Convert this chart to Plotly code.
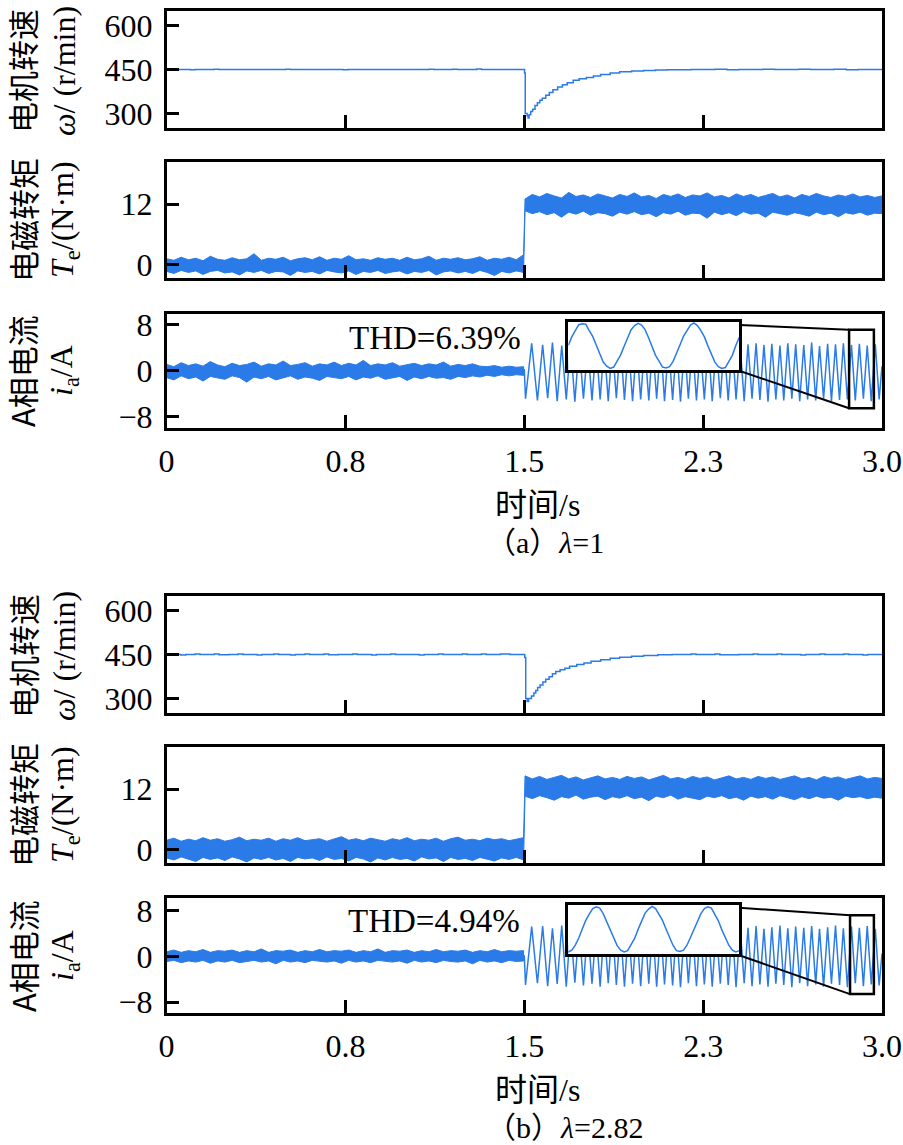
import numpy as np
import plotly.graph_objects as go

W, H = 903, 1145
BLUE = "#2a7be8"
SERIF = "Liberation Serif, Times New Roman, Noto Sans CJK SC, serif"
CJK = "Noto Sans CJK SC, Liberation Serif, sans-serif"

# ---------------- data ----------------
x_tickvals = [0, 0.75, 1.5, 2.25, 3.0]
x_ticktext = ["0", "0.8", "1.5", "2.3", "3.0"]

# motor speed (r/min)
speed_a_t = [0.00, 0.03, 0.10, 0.12, 0.20, 0.22, 0.35, 0.50, 0.52, 0.70, 0.74, 0.76, 0.95, 1.10, 1.12,
             1.20, 1.22, 1.30, 1.32, 1.40, 1.498, 1.501, 1.504, 1.512, 1.516, 1.520, 1.527, 1.535, 1.545,
             1.555, 1.565, 1.575, 1.590, 1.605, 1.620, 1.640, 1.660, 1.680, 1.705, 1.730, 1.760, 1.790,
             1.820, 1.860, 1.900, 1.950, 2.000, 2.050, 2.100, 2.200, 2.300, 2.350, 2.400, 2.500, 2.550,
             2.650, 2.700, 2.800, 2.850, 2.900, 3.000]
speed_a_v = [451, 450, 449, 450, 451, 450, 450, 451, 450, 450, 449, 450, 450, 451, 450,
             451, 450, 452, 450, 450, 450, 438, 300, 292, 284, 295, 306, 314, 327,
             336, 345, 352, 362, 371, 381, 390, 398, 405, 413, 418, 423, 428,
             433, 438, 442, 445, 447, 448, 449, 450, 451, 449, 450, 451, 450,
             451, 450, 451, 449, 450, 450]

speed_b_t = [0.00, 0.01, 0.03, 0.06, 0.08, 0.12, 0.14, 0.20, 0.22, 0.26, 0.30, 0.32, 0.38, 0.40, 0.45,
             0.47, 0.52, 0.54, 0.58, 0.60, 0.66, 0.68, 0.72, 0.78, 0.80, 0.86, 0.88, 0.94, 0.96, 1.02,
             1.06, 1.08, 1.14, 1.16, 1.24, 1.26, 1.32, 1.34, 1.40, 1.44, 1.498, 1.502, 1.506, 1.512,
             1.518, 1.524, 1.530, 1.540, 1.548, 1.556, 1.566, 1.578, 1.590, 1.604, 1.618, 1.632, 1.650,
             1.670, 1.690, 1.720, 1.750, 1.780, 1.820, 1.860, 1.900, 1.950, 2.000, 2.060, 2.120, 2.200,
             2.220, 2.300, 2.320, 2.400, 2.460, 2.480, 2.560, 2.580, 2.660, 2.680, 2.740, 2.760, 2.840,
             2.860, 2.920, 2.940, 3.000]
speed_b_v = [452, 449, 450, 448, 450, 452, 450, 452, 449, 450, 452, 450, 448, 450, 452,
             450, 448, 450, 452, 450, 452, 449, 450, 452, 450, 448, 450, 452, 450, 450,
             448, 450, 452, 450, 452, 450, 452, 450, 452, 450, 450, 440, 300, 289,
             300, 300, 308, 318, 327, 337, 346, 356, 365, 374, 384, 392, 398,
             403, 410, 416, 421, 427, 432, 437, 441, 444, 447, 449, 450, 452,
             450, 452, 449, 450, 452, 450, 452, 450, 448, 450, 452, 450, 452,
             450, 448, 450, 450]

# electromagnetic torque (N·m): upper / lower envelope of the noisy band
tq_a_pre_up = [1.2, 0.9, 1.5, 1.0, 1.3, 0.8, 1.7, 1.1, 0.9, 1.4, 1.0, 1.2, 2.2, 0.9, 1.3, 1.1, 1.5, 0.8, 1.2, 1.4,
               1.0, 1.6, 0.9, 1.3, 1.1, 1.8, 1.0, 1.2, 0.9, 1.4, 1.1, 1.3, 0.9, 1.5, 1.0, 1.2, 1.7, 0.9, 1.3, 1.1,
               1.4, 1.0, 1.2, 1.6, 0.9, 1.3, 1.1, 1.5, 1.0, 2.0]
tq_a_pre_lo = [-1.3, -1.7, -1.1, -1.5, -1.2, -1.9, -1.3, -1.1, -1.6, -1.4, -2.0, -1.2, -1.5, -1.1, -1.7, -1.3,
               -1.4, -2.1, -1.2, -1.5, -1.3, -1.8, -1.1, -1.4, -1.6, -1.2, -1.9, -1.3, -1.5, -1.1, -1.7, -1.4,
               -1.2, -1.8, -1.3, -1.5, -1.1, -2.0, -1.4, -1.2, -1.6, -1.3, -1.7, -1.1, -1.5, -2.1, -1.3, -1.6,
               -1.2, -1.5]
tq_a_post_up = [13.0, 13.9, 13.4, 14.1, 13.6, 13.2, 14.3, 13.5, 13.8, 13.3, 14.0, 13.6, 13.2, 13.9, 13.5, 14.2,
                13.4, 13.7, 13.1, 13.9, 13.5, 14.0, 13.3, 13.8, 13.6, 14.2, 13.4, 13.7, 13.2, 14.0, 13.5, 13.9,
                13.3, 13.7, 14.1, 13.4, 13.8, 13.2, 13.9, 13.5, 14.1, 13.6, 13.3, 13.8, 13.5, 14.0, 13.4, 13.7,
                13.3, 13.6]
tq_a_post_lo = [10.7, 10.1, 10.5, 9.9, 10.3, 9.4, 10.4, 10.0, 10.6, 9.8, 10.3, 10.1, 9.6, 10.4, 10.0, 10.5,
                9.9, 10.2, 9.5, 10.3, 10.0, 10.6, 9.8, 10.2, 10.1, 9.2, 10.4, 9.9, 10.3, 9.7, 10.5, 10.0,
                10.2, 9.4, 10.4, 10.1, 9.8, 10.3, 10.0, 9.6, 10.4, 9.9, 10.2, 9.5, 10.3, 10.0, 10.4, 9.8,
                10.2, 10.1]

tq_b_pre_up = [1.9, 2.3, 1.7, 2.1, 1.8, 2.4, 1.9, 2.2, 1.7, 2.0, 2.5, 1.8, 2.1, 1.9, 2.3, 1.7, 2.2, 1.9, 2.4, 1.8,
               2.0, 2.2, 1.7, 2.1, 2.6, 1.9, 2.2, 1.8, 2.3, 2.0, 1.7, 2.2, 1.9, 2.4, 1.8, 2.1, 1.9, 2.3, 1.7, 2.2,
               2.5, 1.9, 2.1, 1.8, 2.3, 2.0, 2.2, 1.8, 2.1, 2.4]
tq_b_pre_lo = [-1.6, -2.0, -1.4, -1.8, -2.3, -1.5, -1.9, -1.6, -2.1, -1.4, -1.8, -2.4, -1.6, -1.9, -1.5, -2.0,
               -1.7, -2.3, -1.5, -1.8, -1.6, -2.1, -1.4, -1.9, -1.7, -2.2, -1.5, -1.8, -2.4, -1.6, -2.0, -1.5,
               -1.9, -1.7, -2.2, -1.4, -1.8, -1.6, -2.3, -1.5, -1.9, -1.7, -2.1, -1.5, -1.8, -2.2, -1.6, -1.9,
               -1.5, -2.0]
tq_b_post_up = [14.6, 14.0, 14.5, 13.9, 14.3, 14.7, 14.0, 14.4, 13.8, 14.2, 14.6, 14.0, 14.3, 13.9, 14.5, 14.1,
                14.4, 13.8, 14.2, 14.7, 14.0, 14.3, 13.9, 14.5, 14.1, 14.4, 13.8, 14.2, 14.6, 14.0, 14.3, 13.9,
                14.5, 14.1, 14.4, 13.9, 14.2, 14.6, 14.0, 14.3, 13.8, 14.5, 14.1, 14.4, 13.9, 14.2, 14.6, 14.0,
                14.3, 14.1]
tq_b_post_lo = [10.6, 10.1, 10.7, 10.3, 9.8, 10.5, 10.2, 10.8, 10.0, 10.4, 10.6, 9.9, 10.5, 10.2, 10.7, 10.1,
                10.4, 9.7, 10.6, 10.3, 10.8, 10.0, 10.5, 10.2, 9.9, 10.6, 10.3, 10.7, 10.1, 10.4, 9.8, 10.6,
                10.2, 10.5, 10.0, 10.7, 10.3, 9.9, 10.5, 10.1, 10.6, 10.2, 10.4, 9.8, 10.6, 10.3, 10.5, 10.1,
                10.4, 10.2]

# phase-A current (A): noisy band before 1.5 s
cur_a_pre_up = [1.1, 0.7, 1.4, 0.9, 1.2, 0.8, 1.6, 1.0, 0.7, 1.3, 0.9, 1.1, 1.5, 0.8, 1.2, 1.0, 1.7, 0.9, 1.1, 1.4,
                0.8, 1.2, 1.0, 1.5, 0.9, 1.3, 1.0, 1.8, 0.9, 1.2, 1.0, 1.4, 0.8, 1.1, 1.3, 0.9, 1.2, 1.0, 1.5, 0.8,
                1.1, 0.9, 1.2, 0.8, 0.7, 0.9, 0.6, 0.8, 0.6, 0.7]
cur_a_pre_lo = [-1.2, -1.6, -0.9, -1.4, -1.1, -1.8, -1.0, -1.3, -1.5, -0.9, -1.2, -2.0, -1.1, -1.4, -1.0, -1.6,
                -1.2, -0.9, -1.5, -1.1, -1.3, -1.7, -1.0, -1.2, -1.4, -1.0, -1.6, -1.1, -1.3, -0.9, -1.5, -1.2,
                -1.0, -1.7, -1.1, -1.4, -1.0, -1.3, -1.2, -1.5, -1.0, -1.2, -0.9, -1.1, -0.8, -1.0, -0.7, -0.9,
                -0.7, -0.8]
cur_b_pre_up = [0.8, 1.1, 0.7, 1.0, 0.8, 1.2, 0.7, 1.0, 0.9, 1.1, 0.7, 1.0, 0.8, 1.3, 0.7, 1.0, 0.9, 1.1, 0.7, 1.0,
                0.8, 1.2, 0.8, 1.0, 0.9, 1.1, 0.7, 1.0, 0.8, 1.3, 0.7, 1.0, 0.9, 1.1, 0.7, 1.0, 0.8, 1.2, 0.8, 1.0,
                0.9, 1.1, 0.7, 1.0, 0.8, 1.2, 0.8, 1.0, 0.9, 1.0]
cur_b_pre_lo = [-0.9, -0.7, -1.1, -0.8, -1.0, -0.7, -1.2, -0.8, -1.0, -0.7, -1.1, -0.9, -0.7, -1.0, -0.8, -1.3,
                -0.7, -1.0, -0.8, -1.1, -0.7, -0.9, -1.0, -0.8, -1.2, -0.7, -1.0, -0.8, -1.1, -0.7, -0.9, -1.0,
                -0.8, -1.2, -0.7, -1.0, -0.8, -1.1, -0.7, -0.9, -1.0, -0.8, -1.3, -0.7, -1.0, -0.8, -1.1, -0.7,
                -0.9, -0.8]

# phase-A current after load step: times of successive extrema and their values
cur_ext_t = [1.500, 1.505, 1.531, 1.555, 1.577, 1.598, 1.618, 1.638, 1.657, 1.676, 1.694, 1.712, 1.730, 1.748,
             1.766, 1.784, 1.801, 1.818, 1.835, 1.852, 1.869, 1.886, 1.903, 1.920, 1.937, 1.954, 1.971, 1.988,
             2.005, 2.022, 2.038, 2.055, 2.072, 2.088, 2.105, 2.122, 2.138, 2.155, 2.172, 2.188, 2.205, 2.222,
             2.238, 2.255, 2.272, 2.288, 2.305, 2.322, 2.338, 2.355, 2.372, 2.388, 2.405, 2.422, 2.438, 2.455,
             2.472, 2.488, 2.505, 2.522, 2.538, 2.555, 2.572, 2.588, 2.605, 2.622, 2.638, 2.655, 2.672, 2.688,
             2.705, 2.722, 2.738, 2.755, 2.772, 2.788, 2.805, 2.822, 2.838, 2.855, 2.872, 2.888, 2.905, 2.922,
             2.938, 2.955, 2.972, 2.988, 3.000]
cur_a_ext = [0.3,
             -4.9, 4.8, -5.2, 4.5, -4.8, 4.9, -5.3, 4.4, -5.0, 4.7, -5.4, 4.6, -4.9, 4.3, -5.2, 4.8, -5.0, 4.5,
             -5.3, 4.6, -4.8, 4.9, -5.1, 4.4, -5.3, 4.7, -5.0, 4.5,
             -5.2, 4.6, -4.9, 4.8, -5.3, 4.4, -5.1, 4.7, -5.4, 4.5,
             -4.9, 4.8, -5.2, 4.3, -5.0, 4.6, -5.3, 4.7, -4.8, 4.5,
             -5.2, 4.9, -5.0, 4.4, -5.3, 4.6, -4.9, 4.8, -5.1, 4.5,
             -5.4, 4.7, -5.0, 4.4, -5.2, 4.8, -4.9, 4.6, -5.3, 4.5,
             -5.0, 4.9, -5.2, 4.3, -4.9, 4.7, -5.3, 4.6, -5.1, 4.8,
             -5.0, 4.5, -5.2, 4.7, -4.9, 4.4, -5.3, 4.6, -5.0,
             0.8]
cur_b_ext = [0.2,
             -5.0, 5.2, -4.7, 5.3, -5.2, 4.9, -4.8, 5.4, -5.3, 5.0, -4.6, 5.2, -5.1, 5.3, -4.8, 4.9, -5.3, 5.1,
             -4.7, 5.4, -5.0, 4.9, -5.3, 5.2, -4.8, 5.0, -5.2, 5.3,
             -4.8, 5.1, -5.3, 4.8, -4.9, 5.4, -5.1, 4.9, -5.4, 5.2,
             -4.7, 5.0, -5.2, 5.3, -4.9, 4.8, -5.3, 5.1, -4.8, 5.4,
             -5.0, 4.9, -5.4, 5.2, -4.7, 5.0, -5.2, 5.3, -4.9, 4.8,
             -5.3, 5.1, -4.8, 5.4, -5.0, 4.9, -5.4, 5.2, -4.7, 5.0,
             -5.2, 5.3, -4.9, 4.8, -5.3, 5.1, -4.8, 5.4, -5.0, 4.9,
             -5.4, 5.2, -4.7, 5.0, -5.2, 5.3, -4.9, 4.8, -5.1,
             0.5]

# zoomed insets (about 2.86 s to 2.97 s)
inset_a_range = [2.862, 2.966]
inset_a_v = [0.1, 2.0, 3.4, 4.7, 4.9, 4.8, 3.4, 2.1, 0.2, -1.8, -3.6, -4.5, -5.0, -4.7, -3.3, -2.0,
             -0.1, 1.8, 3.6, 4.5, 5.0, 4.6, 3.6, 1.8, -0.1, -2.1, -3.4, -4.7, -4.9, -4.6, -3.5, -1.8,
             0.2, 2.1, 3.3, 4.6, 5.1, 4.5, 3.4, 2.0, 0.0, -1.9, -3.6, -4.6, -5.0, -4.8, -3.4, -2.1,
             0.1, 1.9]
inset_b_range = [2.866, 2.966]
inset_b_v = [-5.0, -4.6, -3.5, -1.9, 0.1, 2.0, 3.4, 4.6, 5.0, 4.7, 3.5, 1.8, -0.1, -2.0, -3.6, -4.6,
             -5.0, -4.7, -3.4, -2.0, 0.0, 1.9, 3.6, 4.5, 5.1, 4.6, 3.4, 2.0, 0.1, -1.9, -3.5, -4.7,
             -4.9, -4.6, -3.5, -1.8, 0.1, 2.0, 3.5, 4.6, 5.0, 4.7, 3.4, 1.9, -0.1, -2.0, -3.5, -4.6,
             -5.0, -4.7]

assert len(speed_a_t) == len(speed_a_v) and len(speed_b_t) == len(speed_b_v)
assert len(cur_ext_t) == len(cur_a_ext) == len(cur_b_ext)


# ---------------- figure ----------------
def fx(p):
    return p / W


def fy(p):
    return 1 - p / H


fig = go.Figure()

X0, X1 = 166.6, 882.0
panels = {
    1: (11, 128, [250, 650], [300, 450, 600], ["300", "450", "600"]),
    2: (162, 278, [-2.6, 20.3], [0, 12], ["0", "12"]),
    3: (314, 428, [-10.0, 9.9], [-8, 0, 8], ["\u22128", "0", "8"]),
    4: (596, 713, [250, 650], [300, 450, 600], ["300", "450", "600"]),
    5: (747, 863, [-2.6, 20.3], [0, 12], ["0", "12"]),
    6: (898, 1013, [-9.9, 10.2], [-8, 0, 8], ["\u22128", "0", "8"]),
}

axis_common = dict(showline=True, linecolor="black", linewidth=2.5, mirror=True,
                   ticks="inside", ticklen=13, tickwidth=2.5, tickcolor="black",
                   showgrid=False, zeroline=False, automargin=False, ticklabeloverflow="allow",
                   tickfont=dict(family=SERIF, size=32, color="black"))

layout_axes = {}
for i, (top, bot, yr, yt, ytt) in panels.items():
    sfx = "" if i == 1 else str(i)
    layout_axes["xaxis" + sfx] = dict(axis_common, domain=[fx(X0), fx(X1)], range=[0, 3],
                                      tickvals=x_tickvals, ticktext=x_ticktext,
                                      showticklabels=(i in (3, 6)), anchor="y" + sfx,
                                      ticklabelstandoff=3)
    layout_axes["yaxis" + sfx] = dict(axis_common, domain=[fy(bot), fy(top)], range=yr,
                                      tickvals=yt, ticktext=ytt, anchor="x" + sfx,
                                      ticklabelstandoff=5)

# inset axes
inset_box = {7: (568.3, 739.3, 322, 370, inset_a_range, [-5.35, 5.3]),
             8: (568.3, 739.3, 905, 954, inset_b_range, [-5.45, 5.4])}
for i, (l, r, t, b, xr, yr) in inset_box.items():
    layout_axes["xaxis%d" % i] = dict(domain=[fx(l), fx(r)], range=xr, showline=True, linecolor="black",
                                      linewidth=2.5, mirror=True, ticks="", showticklabels=False,
                                      showgrid=False, zeroline=False, anchor="y%d" % i)
    layout_axes["yaxis%d" % i] = dict(domain=[fy(b), fy(t)], range=yr, showline=True, linecolor="black",
                                      linewidth=2.5, mirror=True, ticks="", showticklabels=False,
                                      showgrid=False, zeroline=False, anchor="x%d" % i)

# speed traces
fig.add_trace(go.Scatter(x=speed_a_t, y=speed_a_v, mode="lines", line=dict(color=BLUE, width=1.5, shape="hv"),
                         xaxis="x", yaxis="y"))
fig.add_trace(go.Scatter(x=speed_b_t, y=speed_b_v, mode="lines", line=dict(color=BLUE, width=1.5, shape="hv"),
                         xaxis="x4", yaxis="y4"))


def band_polygon(up_pre, lo_pre, up_post, lo_post):
    t_pre = list(np.linspace(0, 1.497, len(up_pre)))
    t_post = list(np.linspace(1.503, 3.0, len(up_post)))
    xs = t_pre + t_post + t_post[::-1] + t_pre[::-1]
    ys = list(up_pre) + list(up_post) + list(lo_post)[::-1] + list(lo_pre)[::-1]
    return xs, ys


for (up1, lo1, up2, lo2), ax in [((tq_a_pre_up, tq_a_pre_lo, tq_a_post_up, tq_a_post_lo), "2"),
                                 ((tq_b_pre_up, tq_b_pre_lo, tq_b_post_up, tq_b_post_lo), "5")]:
    xs, ys = band_polygon(up1, lo1, up2, lo2)
    fig.add_trace(go.Scatter(x=xs, y=ys, mode="lines", fill="toself", fillcolor=BLUE,
                             line=dict(color=BLUE, width=1), xaxis="x" + ax, yaxis="y" + ax))

for up, lo, ext, ax in [(cur_a_pre_up, cur_a_pre_lo, cur_a_ext, "3"),
                        (cur_b_pre_up, cur_b_pre_lo, cur_b_ext, "6")]:
    t_pre = list(np.linspace(0, 1.497, len(up)))
    fig.add_trace(go.Scatter(x=t_pre + t_pre[::-1], y=list(up) + list(lo)[::-1], mode="lines", fill="toself",
                             fillcolor=BLUE, line=dict(color=BLUE, width=1), xaxis="x" + ax, yaxis="y" + ax))
    fig.add_trace(go.Scatter(x=[1.497] + cur_ext_t, y=[lo[-1]] + ext, mode="lines",
                             line=dict(color=BLUE, width=1.5), xaxis="x" + ax, yaxis="y" + ax))

# inset traces
for vals, rng, ax in [(inset_a_v, inset_a_range, "7"), (inset_b_v, inset_b_range, "8")]:
    ts = np.linspace(rng[0], rng[1], len(vals))
    fig.add_trace(go.Scatter(x=ts, y=vals, mode="lines", line=dict(color=BLUE, width=1.5),
                             xaxis="x" + ax, yaxis="y" + ax))

# zoom box + connector lines
shapes = []
for ax, rng, top_y, box_y, inset_top, inset_bot in [("3", inset_a_range, 7.13, -6.56, 8.0, 0.0),
                                                   ("6", inset_b_range, 7.2, -6.6, 8.5, 0.2)]:
    ref = dict(xref="x" + ax, yref="y" + ax, layer="above")
    shapes.append(dict(type="rect", x0=rng[0], x1=rng[1], y0=box_y, y1=top_y,
                       line=dict(color="black", width=2.5), **ref))
    shapes.append(dict(type="line", x0=2.401, y0=inset_top, x1=rng[0], y1=top_y,
                       line=dict(color="black", width=2), **ref))
    shapes.append(dict(type="line", x0=2.401, y0=inset_bot, x1=rng[0], y1=box_y,
                       line=dict(color="black", width=2), **ref))

annotations = []


def ann(text, x, y, size=32, family=SERIF, angle=0, xanchor="center"):
    annotations.append(dict(text=text, x=fx(x), y=fy(y), xref="paper", yref="paper", showarrow=False,
                            xanchor=xanchor, yanchor="middle", textangle=angle,
                            font=dict(family=family, size=size, color="black")))


titles = [("电机转速", "<i>ω</i>/ (r/min)", 71),
          ("电磁转矩", "<i>T</i><sub>e</sub>/(N·m)", 220),
          ("A相电流", "<i>i</i><sub>a</sub>/A", 371)]
for off in (0, 585):
    for l1, l2, yc in titles:
        ann(l1, 22, yc + off, size=31, family=CJK, angle=-90)
        ann(l2, 64, yc + off, size=32, family=SERIF, angle=-90)
    ann("时间/s", 537, 505 + off, size=32, family=SERIF)

ann("THD=6.39%", 435, 338, size=33)
ann("THD=4.94%", 434, 921, size=33)
ann("（a）<i>λ</i>=1", 484, 542, size=30, family=SERIF, xanchor="left")
ann("（b）<i>λ</i>=2.82", 484, 1127, size=30, family=SERIF, xanchor="left")

fig.update_layout(width=W, height=H, margin=dict(l=0, r=0, t=0, b=0, autoexpand=False),
                  paper_bgcolor="white", plot_bgcolor="white", showlegend=False,
                  shapes=shapes, annotations=annotations, **layout_axes)

# remove the page's default 8 px body margin so the figure fills the window exactly
fig.write_html("out.html", config={"displayModeBar": False},
               post_script="document.body.style.margin='0';document.body.style.overflow='hidden';")
